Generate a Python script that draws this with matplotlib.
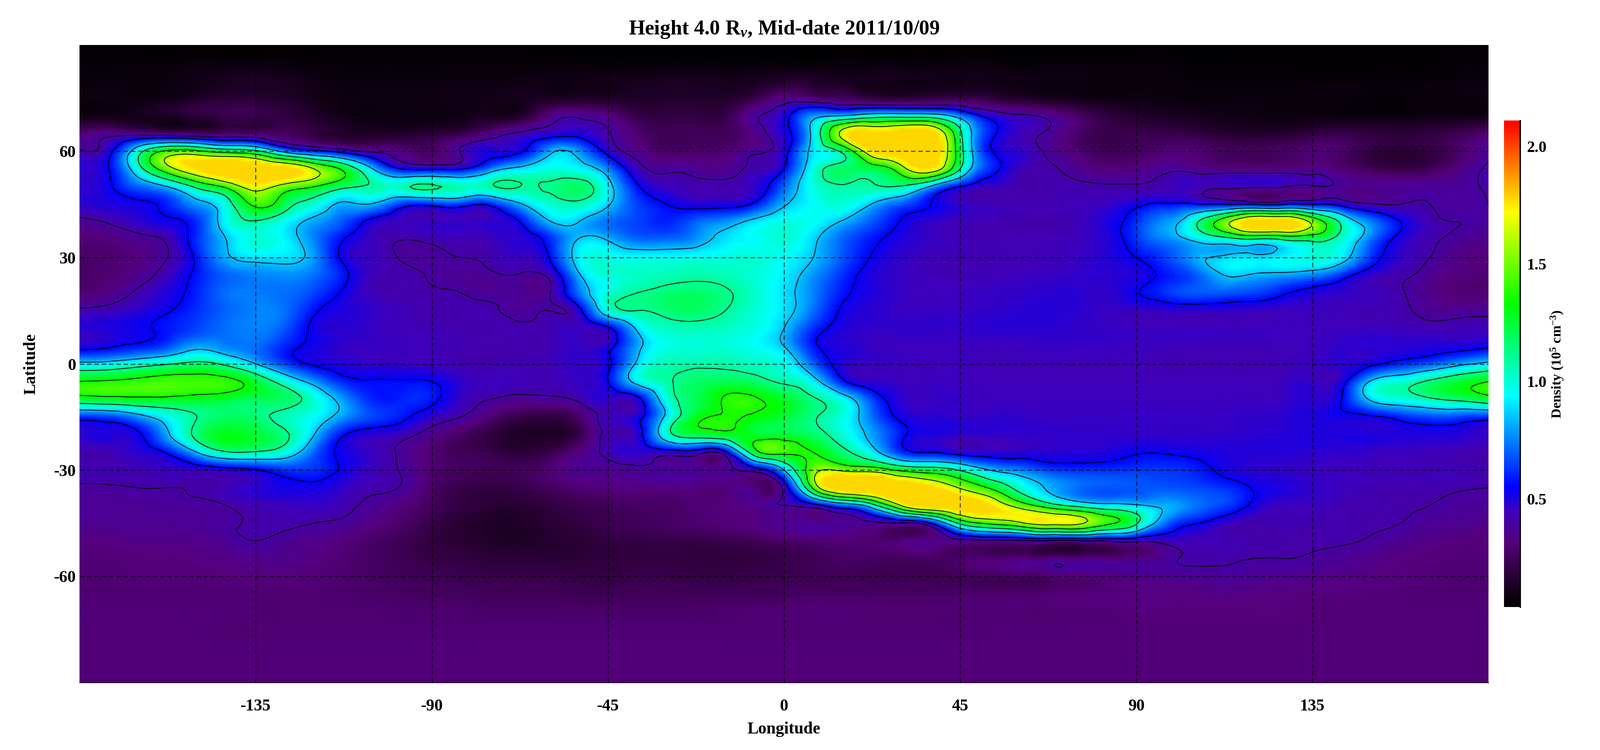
import numpy as np
import matplotlib
matplotlib.use("Agg")
import matplotlib.pyplot as plt
import matplotlib.tri as mtri
from matplotlib.colors import LinearSegmentedColormap

plt.rcParams['font.family'] = ['Liberation Serif', 'DejaVu Serif']
plt.rcParams['font.weight'] = 'bold'
plt.rcParams['axes.unicode_minus'] = False
plt.rcParams['mathtext.fontset'] = 'custom'
plt.rcParams['mathtext.rm'] = 'Liberation Serif:bold'
plt.rcParams['mathtext.it'] = 'Liberation Serif:italic:bold'
plt.rcParams['mathtext.bf'] = 'Liberation Serif:bold'

lons = np.arange(-180, 180.1, 7.5)
lats = np.arange(90, -90.1, -5)

# density, 0.01 x 10^5 cm^-3, north to south
# groups: -180..-97.5 | -90..-7.5 | 0..82.5 | 90..180
density = [
    [5,5,5,5,5,5,5,5,5,5,5,5, 5,5,5,5,5,5,5,5,5,5,5,5, 5,5,5,5,5,5,5,5,5,5,5,5, 5,5,5,5,5,5,5,5,5,5,5,5,5],
    [6,6,6,6,7,7,7,7,6,6,6,6, 6,6,6,6,6,6,6,6,6,6,6,6, 6,6,7,7,7,7,7,7,6,6,6,6, 6,6,5,5,5,5,5,5,5,5,5,6,6],
    [7,7,7,8,10,12,13,12,9,7,7,7, 7,8,8,9,9,9,10,11,12,12,11,12, 15,15,12,11,10,10,10,10,9,8,8,7, 7,7,6,6,6,6,6,6,6,6,6,7,7],
    [8,8,8,10,14,17,17,15,11,8,8,8, 9,9,10,11,13,14,14,14,15,15,15,22, 33,30,26,20,18,20,22,20,15,12,10,9, 9,8,7,7,7,7,7,7,6,6,7,7,8],
    [10,10,11,13,18,22,22,20,15,10,8,8, 8,10,12,15,33,38,33,22,20,20,22,38, 50,78,86,98,100,98,75,50,42,37,28,20, 15,13,11,10,9,8,8,8,8,8,9,9,10],
    [30,35,34,30,28,28,28,26,20,15,14,15, 18,22,33,42,48,50,41,30,24,25,25,34, 50,92,168,190,195,190,115,60,45,38,28,22, 22,22,20,16,15,16,20,22,20,18,20,24,30],
    [42,50,100,140,140,125,115,78,60,48,38,32, 28,41,50,53,80,78,50,35,27,28,30,38, 50,90,115,180,200,200,120,57,47,38,30,24, 26,30,30,26,25,27,30,28,20,17,20,28,38],
    [48,55,100,150,180,195,195,185,160,130,85,55, 53,54,75,90,98,95,75,45,38,37,35,42, 55,98,118,122,150,175,110,62,45,41,36,32, 33,38,36,34,33,34,35,30,25,22,25,33,42],
    [48,53,70,85,115,140,170,150,135,115,108,105, 112,105,108,110,112,118,92,57,45,42,42,47, 70,98,108,108,108,82,55,45,42,42,42,41, 41,43,45,43,42,41,39,37,36,37,38,38,41],
    [47,50,52,60,78,100,140,120,100,82,83,62, 60,62,58,82,100,105,87,65,55,50,50,58, 83,95,100,84,68,55,47,44,43,43,44,46, 52,57,57,55,54,55,55,50,41,40,40,38,40],
    [37,41,47,52,62,95,108,95,80,67,50,45, 45,46,47,55,83,85,72,65,60,70,78,90, 98,95,83,68,54,47,44,43,42,42,44,50, 62,78,105,150,190,190,155,105,75,55,43,40,38],
    [30,32,36,42,62,85,100,93,75,55,45,40, 42,43,44,48,60,86,84,72,72,78,90,95, 100,88,70,58,50,46,44,43,43,43,45,49, 62,75,88,98,106,110,115,100,72,50,42,37,35],
    [27,29,33,40,58,82,90,90,78,52,45,39, 38,40,42,45,55,92,98,95,95,97,98,100, 95,85,68,54,47,44,43,43,43,44,46,49, 55,65,80,88,90,94,100,92,63,47,40,34,32],
    [27,30,35,45,58,70,75,77,72,58,44,42, 39,37,38,39,43,82,100,103,105,107,105,100, 92,78,62,50,46,44,43,44,45,46,47,48, 50,58,68,85,83,80,75,62,47,42,36,32,30],
    [30,34,42,50,60,72,74,72,65,53,44,42, 41,40,37,37,39,72,100,110,115,117,112,102, 90,75,58,50,46,45,45,46,47,48,48,47, 54,62,68,68,65,57,50,47,45,41,35,31,30],
    [42,44,48,54,62,70,75,72,57,50,47,44, 42,42,42,37,40,50,98,110,115,117,110,100, 90,72,53,48,46,46,46,47,48,49,48,46, 46,47,47,47,46,45,45,44,43,42,37,37,37],
    [48,50,53,58,65,72,75,68,52,48,46,44, 43,42,42,42,43,45,52,88,103,105,103,98, 85,62,50,47,47,47,47,48,48,48,47,46, 45,45,45,45,45,45,45,45,45,44,43,43,45],
    [50,53,58,66,80,75,72,60,52,47,46,45, 44,43,42,42,43,46,50,80,98,100,100,95, 85,58,49,46,45,45,45,45,45,46,46,46, 45,45,44,44,44,44,45,47,48,48,49,50,53],
    [90,92,100,108,115,105,85,65,53,49,47,46, 45,43,42,43,44,47,52,88,105,107,107,103, 97,70,49,46,45,45,45,44,44,44,44,44, 44,43,43,43,43,44,46,48,52,60,68,80,90],
    [135,137,140,143,142,140,125,100,78,60,56,56, 55,47,45,44,43,46,55,92,108,117,120,117, 107,92,58,47,45,45,45,44,44,44,44,44, 44,44,44,44,44,45,46,50,87,100,113,125,135],
    [125,128,130,130,128,125,120,118,100,78,60,60, 58,46,40,37,38,42,47,50,98,120,137,137, 127,112,95,65,48,46,46,45,45,45,45,45, 45,45,45,45,45,46,48,55,88,98,107,115,125],
    [62,65,78,95,110,118,115,105,95,78,65,58, 47,40,30,22,20,28,44,50,90,128,137,132, 125,112,98,72,52,48,47,47,47,46,46,46, 46,46,46,46,47,48,50,52,53,60,66,65,62],
    [47,50,53,82,115,130,125,113,85,56,48,44, 35,27,20,14,14,22,42,48,100,122,127,127, 125,117,100,80,58,50,47,47,47,47,47,47, 47,47,47,47,48,49,50,50,50,50,50,49,47],
    [42,43,48,57,85,108,108,98,70,52,45,38, 30,25,22,18,22,33,43,47,47,47,50,125, 140,135,115,93,62,55,49,48,48,48,49,50, 54,54,52,50,49,49,48,47,46,45,44,43,42],
    [42,43,44,46,47,50,54,62,62,53,45,39, 30,26,24,25,30,36,36,38,38,38,38,46, 85,150,155,150,130,122,108,85,75,65,62,62, 63,63,60,52,48,47,46,45,45,44,44,44,42],
    [39,39,40,40,41,44,48,52,52,47,42,39, 28,22,20,22,26,30,32,33,33,33,32,32, 44,140,195,200,195,185,158,133,103,83,72,68, 68,68,66,62,54,50,47,45,43,42,42,41,40],
    [37,37,37,38,38,40,43,45,46,43,37,32, 26,20,17,17,20,23,25,27,27,30,32,35, 40,48,70,100,162,190,190,180,150,122,103,92, 87,82,73,65,52,45,45,43,42,41,40,38,37],
    [36,36,36,36,37,39,41,42,40,38,33,28, 22,17,14,14,17,20,23,25,27,29,31,33, 36,37,37,38,40,55,115,140,155,168,165,140, 113,72,56,47,42,43,42,42,41,40,37,36,34],
    [33,33,34,34,35,37,40,37,35,32,28,24, 20,17,15,14,16,17,20,21,22,22,23,25, 28,30,31,30,31,34,36,38,38,39,39,41, 43,44,44,43,42,41,41,41,39,36,34,32,32],
    [31,31,32,32,33,34,35,35,33,30,27,24, 21,20,18,18,18,18,19,20,20,19,19,20, 22,25,27,27,26,27,28,30,32,32,32,32, 34,38,41,41,40,40,39,37,35,33,32,31,31],
    [30,30,31,31,31,32,32,32,31,29,27,25, 24,23,22,22,22,21,21,22,22,21,21,22, 23,24,25,24,24,24,25,26,27,29,31,33, 35,36,37,38,37,36,35,34,33,32,31,30,30],
    [30,30,30,30,30,30,30,30,30,29,28,27, 26,26,25,25,25,24,24,25,25,25,25,25, 26,27,27,27,27,27,28,28,29,30,31,32, 33,33,33,34,33,33,32,32,31,31,30,30,30],
    [31,31,31,31,31,31,30,30,30,30,30,29, 29,29,28,28,28,28,28,28,28,28,29,30, 30,31,31,30,30,30,30,30,30,30,31,31, 32,32,32,32,32,32,31,31,31,31,31,31,31],
    [31,31,31,31,31,30,30,30,30,30,30,30, 30,30,30,30,30,30,30,30,30,30,30,30, 30,30,30,30,30,30,30,31,31,31,31,31, 31,31,31,31,31,31,31,31,31,31,31,31,31],
    [31,31,31,31,31,31,31,31,31,31,31,31, 31,31,31,31,31,31,31,31,31,31,31,31, 31,31,31,31,31,31,31,31,31,31,31,31, 31,31,31,31,31,31,31,31,31,31,31,31,31],
    [31,31,31,31,31,31,31,31,31,31,31,31, 31,31,31,31,31,31,31,31,31,31,31,31, 31,31,31,31,31,31,31,31,31,31,31,31, 31,31,31,31,31,31,31,31,31,31,31,31,31],
    [31,31,31,31,31,31,31,31,31,31,31,31, 31,31,31,31,31,31,31,31,31,31,31,31, 31,31,31,31,31,31,31,31,31,31,31,31, 31,31,31,31,31,31,31,31,31,31,31,31,31],
]

contour_levels = [0.4, 0.55, 0.85, 1.1, 1.35, 1.6]
vmin, vmax = 0.04, 2.11
data_ceiling = 1.78

lon_ticks = [-135, -90, -45, 0, 45, 90, 135]
lat_ticks = [-60, -30, 0, 30, 60]
cbar_ticks = [0.5, 1.0, 1.5, 2.0]

cmap_stops = [(0.04, (0, 0, 0)), (0.2, (50, 0, 65)), (0.32, (85, 0, 125)), (0.45, (60, 0, 190)),
              (0.55, (0, 0, 255)), (0.94, (0, 255, 255)), (1.33, (0, 255, 0)),
              (1.72, (255, 255, 0)), (2.11, (255, 0, 0))]
cmap = LinearSegmentedColormap.from_list(
    'density', [((v - vmin) / (vmax - vmin), tuple(c / 255 for c in rgb)) for v, rgb in cmap_stops], N=512)

W, H = 3200, 1500
fig = plt.figure(figsize=(W / 100, H / 100), dpi=100)
ax = fig.add_axes([159 / W, 1 - 1365 / H, (2977 - 159) / W, (1365 - 90) / H])

lon2d, lat2d = np.meshgrid(lons, lats)
field = np.array(density) / 100.0
tri = mtri.Triangulation(lon2d.ravel(), lat2d.ravel())
refiner = mtri.UniformTriRefiner(tri)
tri_fine, field_fine = refiner.refine_field(field.ravel(), subdiv=3)

ax.tripcolor(tri_fine, np.clip(field_fine, vmin, data_ceiling), shading='gouraud',
             cmap=cmap, vmin=vmin, vmax=vmax)
ax.tricontour(tri_fine, field_fine, levels=contour_levels, colors='k', linewidths=1.1)

ax.set_xlim(-180, 180)
ax.set_ylim(-90, 90)
ax.set_xticks(lon_ticks)
ax.set_yticks(lat_ticks)
ax.tick_params(length=0, labelsize=24, pad=5)
ax.xaxis.set_tick_params(pad=23)
ax.grid(True, color='k', linewidth=1.0, linestyle=(0, (6.5, 4)))
ax.set_axisbelow(False)
for side in ['top', 'left', 'right']:
    ax.spines[side].set_visible(False)
ax.spines['bottom'].set_linewidth(1.0)

ax.set_title(r'Height 4.0 R$_{\mathit{v}}$, Mid-date 2011/10/09', fontsize=30, fontweight='bold', pad=15)
ax.set_xlabel('Longitude', fontsize=24, fontweight='bold')
ax.xaxis.set_label_coords(0.5, -0.061)
ax.set_ylabel('Latitude', fontsize=24, fontweight='bold')
ax.yaxis.set_label_coords(-0.029, 0.5)

cax = fig.add_axes([3008 / W, 1 - 1214 / H, 32 / W, (1214 - 241) / H])
gradient = np.linspace(vmin, vmax, 512).reshape(-1, 1)
cax.imshow(gradient, origin='lower', aspect='auto', cmap=cmap, vmin=vmin, vmax=vmax,
           extent=[0, 1, vmin, vmax])
cax.set_xticks([])
cax.yaxis.tick_right()
cax.set_yticks(cbar_ticks)
cax.set_yticklabels(['%.1f' % t for t in cbar_ticks])
cax.tick_params(length=0, labelsize=23, pad=10)
for side in ['top', 'left', 'bottom']:
    cax.spines[side].set_visible(False)
cax.spines['right'].set_linewidth(2.0)
cax.set_ylabel('Density (10$^{5}$ cm$^{-3}$)', fontsize=20, fontweight='bold', rotation=90)
cax.yaxis.set_label_position('right')
cax.yaxis.set_label_coords(2.83, 0.5)

fig.savefig('out.png', dpi=100)
